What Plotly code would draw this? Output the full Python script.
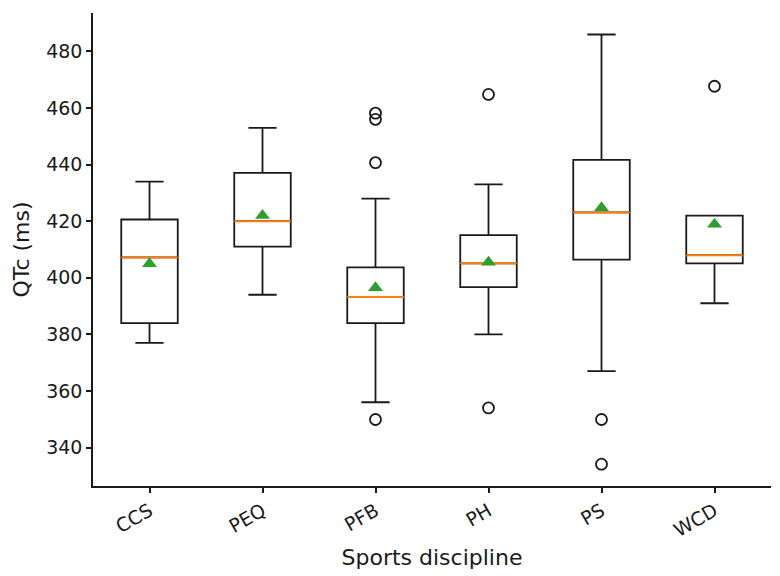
import plotly.graph_objects as go

categories = ["CCS", "PEQ", "PFB", "PH", "PS", "WCD"]
q1 = [384.0, 411.0, 384.0, 396.7, 406.4, 405.1]
medians = [407.2, 420.0, 393.2, 405.1, 423.1, 408.0]
q3 = [420.6, 437.1, 403.7, 415.1, 441.7, 422.0]
lower_whisker = [377.0, 394.0, 356.0, 380.0, 367.0, 391.0]
upper_whisker = [434.0, 453.0, 428.0, 433.0, 486.0, 422.0]
means = [405.0, 422.0, 396.5, 405.5, 424.8, 418.9]
outliers = {
    "CCS": [],
    "PEQ": [],
    "PFB": [458.2, 456.0, 440.7, 349.9],
    "PH": [464.8, 354.0],
    "PS": [349.9, 334.1],
    "WCD": [467.7],
}

FONT = "DejaVu Sans"
BOX_W = 0.5
positions = list(range(1, len(categories) + 1))

fig = go.Figure()

for pos, cat, a, m, b, lo, hi in zip(positions, categories, q1, medians, q3, lower_whisker, upper_whisker):
    fig.add_trace(go.Box(
        x=[pos], q1=[a], median=[m], q3=[b], lowerfence=[lo], upperfence=[hi],
        width=BOX_W, whiskerwidth=0.5, boxpoints=False,
        fillcolor="rgba(255,255,255,0)",
        line=dict(color="#1a1a1a", width=1.8),
        name=cat, showlegend=False, hoverinfo="skip",
    ))

# median lines (orange)
mx, my = [], []
for pos, m in zip(positions, medians):
    mx += [pos - BOX_W / 2, pos + BOX_W / 2, None]
    my += [m, m, None]
fig.add_trace(go.Scatter(x=mx, y=my, mode="lines",
                         line=dict(color="#ff7f0e", width=2),
                         showlegend=False, hoverinfo="skip"))

# outliers
ox, oy = [], []
for pos, cat in zip(positions, categories):
    for v in outliers[cat]:
        ox.append(pos)
        oy.append(v)
fig.add_trace(go.Scatter(x=ox, y=oy, mode="markers",
                         marker=dict(symbol="circle-open", size=11,
                                     color="#1a1a1a", line=dict(width=1.8)),
                         showlegend=False))

# means
fig.add_trace(go.Scatter(x=positions, y=means, mode="markers",
                         marker=dict(symbol="triangle-up", size=13, color="#2ca02c"),
                         showlegend=False))

fig.update_layout(
    width=780, height=576,
    margin=dict(l=93, r=9, t=13, b=90),
    paper_bgcolor="white", plot_bgcolor="white",
    font=dict(family=FONT, size=19, color="#1a1a1a"),
    showlegend=False,
)
fig.update_xaxes(
    range=[0.5, 6.5], tickmode="array", tickvals=positions, ticktext=categories,
    tickangle=-30, showline=True, linecolor="#1a1a1a", linewidth=1.5,
    ticks="outside", ticklen=5, tickwidth=1.5, tickcolor="#1a1a1a",
    showgrid=False, zeroline=False,
    tickfont=dict(size=19),
    title=dict(text="Sports discipline", font=dict(size=22), standoff=10),
)
fig.update_yaxes(
    range=[326.4, 493.6], tickmode="array", tickvals=[340, 360, 380, 400, 420, 440, 460, 480],
    showline=True, linecolor="#1a1a1a", linewidth=1.5,
    ticks="outside", ticklen=5, tickwidth=1.5, tickcolor="#1a1a1a",
    showgrid=False, zeroline=False,
    tickfont=dict(size=19),
    title=dict(text="QTc (ms)", font=dict(size=22), standoff=10),
)

fig.write_html("out.html")
